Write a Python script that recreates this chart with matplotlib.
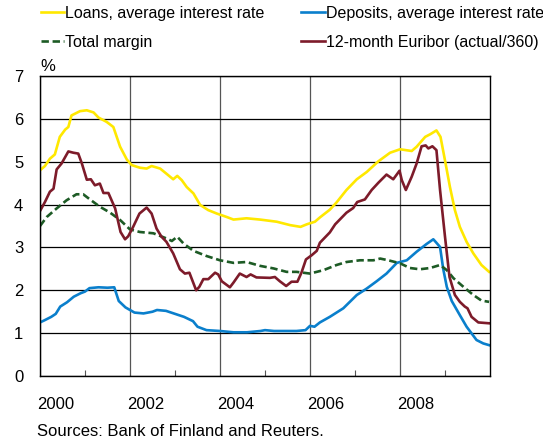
import matplotlib
matplotlib.use("Agg")
import matplotlib.pyplot as plt
from matplotlib.ticker import MultipleLocator, FixedLocator, NullFormatter

plt.rcParams['font.family'] = ['Liberation Sans', 'DejaVu Sans']

# ---- data (decimal year, percent) ----
loans_x = [2000.0, 2000.11, 2000.22, 2000.33, 2000.44, 2000.56, 2000.63, 2000.70, 2000.89, 2001.04,
           2001.19, 2001.30, 2001.48, 2001.63, 2001.78, 2001.93, 2002.04, 2002.22, 2002.37, 2002.48,
           2002.67, 2002.81, 2002.96, 2003.05, 2003.15, 2003.26, 2003.41, 2003.56, 2003.74, 2003.93,
           2004.15, 2004.30, 2004.59, 2004.89, 2005.26, 2005.56, 2005.79, 2005.93, 2006.11, 2006.22,
           2006.44, 2006.59, 2006.81, 2007.04, 2007.26, 2007.52, 2007.78, 2008.0, 2008.26, 2008.37,
           2008.56, 2008.67, 2008.81, 2008.90, 2009.0, 2009.11, 2009.22, 2009.33, 2009.48, 2009.63,
           2009.81, 2009.98]
loans_y = [4.80, 4.90, 5.07, 5.17, 5.58, 5.75, 5.81, 6.08, 6.18, 6.20,
           6.15, 6.03, 5.93, 5.81, 5.35, 5.05, 4.92, 4.86, 4.84, 4.90,
           4.84, 4.72, 4.59, 4.67, 4.57, 4.41, 4.26, 3.99, 3.87, 3.79,
           3.71, 3.65, 3.68, 3.65, 3.60, 3.52, 3.48, 3.54, 3.60, 3.70,
           3.88, 4.05, 4.34, 4.59, 4.76, 5.01, 5.21, 5.29, 5.25, 5.35,
           5.58, 5.64, 5.73, 5.58, 5.03, 4.41, 3.87, 3.48, 3.13, 2.86,
           2.59, 2.43]

deposits_x = [2000.0, 2000.1, 2000.25, 2000.35, 2000.45, 2000.6, 2000.75, 2000.9, 2001.0, 2001.1,
              2001.3, 2001.5, 2001.65, 2001.75, 2001.9, 2002.1, 2002.3, 2002.5, 2002.6, 2002.8,
              2003.0, 2003.2, 2003.4, 2003.5, 2003.7, 2004.0, 2004.3, 2004.6, 2004.9, 2005.0,
              2005.2, 2005.4, 2005.7, 2005.9, 2006.0, 2006.1, 2006.22, 2006.44, 2006.74, 2007.04,
              2007.26, 2007.48, 2007.70, 2007.93, 2008.15, 2008.37, 2008.59, 2008.74, 2008.8, 2008.89,
              2008.96, 2009.04, 2009.15, 2009.33, 2009.48, 2009.70, 2009.85, 2009.98]
deposits_y = [1.25, 1.30, 1.38, 1.45, 1.62, 1.72, 1.85, 1.93, 1.97, 2.05,
              2.07, 2.06, 2.07, 1.75, 1.60, 1.48, 1.46, 1.50, 1.54, 1.52,
              1.45, 1.38, 1.28, 1.15, 1.07, 1.05, 1.02, 1.02, 1.05, 1.07,
              1.05, 1.05, 1.05, 1.07, 1.17, 1.15, 1.25, 1.38, 1.58, 1.89,
              2.04, 2.21, 2.39, 2.64, 2.70, 2.90, 3.08, 3.19, 3.12, 3.01,
              2.50, 2.08, 1.75, 1.42, 1.15, 0.84, 0.76, 0.72]

margin_x = [2000.0, 2000.15, 2000.37, 2000.59, 2000.81, 2000.96, 2001.11, 2001.33, 2001.56, 2001.78,
            2002.0, 2002.22, 2002.52, 2002.81, 2002.93, 2003.05, 2003.19, 2003.41, 2003.70, 2004.0,
            2004.30, 2004.59, 2004.89, 2005.19, 2005.48, 2005.70, 2006.0, 2006.30, 2006.59, 2006.81,
            2007.11, 2007.41, 2007.56, 2007.74, 2008.0, 2008.22, 2008.44, 2008.67, 2008.89, 2009.04,
            2009.19, 2009.41, 2009.63, 2009.81, 2009.98]
margin_y = [3.50, 3.71, 3.91, 4.10, 4.24, 4.24, 4.12, 3.95, 3.81, 3.64,
            3.42, 3.36, 3.33, 3.21, 3.15, 3.25, 3.09, 2.92, 2.80, 2.70,
            2.64, 2.66, 2.57, 2.51, 2.43, 2.43, 2.39, 2.47, 2.59, 2.66,
            2.70, 2.70, 2.74, 2.70, 2.63, 2.52, 2.49, 2.52, 2.59, 2.47,
            2.28, 2.08, 1.89, 1.76, 1.73]

euribor_x = [2000.0, 2000.11, 2000.22, 2000.30, 2000.37, 2000.48, 2000.63, 2000.74, 2000.85, 2000.93,
             2001.04, 2001.13, 2001.22, 2001.33, 2001.41, 2001.52, 2001.67, 2001.79, 2001.89, 2001.96,
             2002.07, 2002.21, 2002.37, 2002.48, 2002.59, 2002.70, 2002.81, 2002.96, 2003.11, 2003.22,
             2003.32, 2003.47, 2003.54, 2003.63, 2003.74, 2003.89, 2003.96, 2004.04, 2004.22, 2004.30,
             2004.44, 2004.59, 2004.68, 2004.81, 2005.11, 2005.22, 2005.33, 2005.47, 2005.59, 2005.72,
             2005.81, 2005.91, 2006.04, 2006.15, 2006.22, 2006.44, 2006.56, 2006.81, 2006.96, 2007.05,
             2007.22, 2007.37, 2007.52, 2007.70, 2007.85, 2007.99, 2008.04, 2008.13, 2008.26, 2008.37,
             2008.48, 2008.57, 2008.63, 2008.72, 2008.81, 2008.89, 2009.0, 2009.10, 2009.22, 2009.33,
             2009.44, 2009.50, 2009.59, 2009.74, 2009.98]
euribor_y = [3.85, 4.06, 4.30, 4.37, 4.82, 4.96, 5.24, 5.21, 5.19, 4.96,
             4.58, 4.59, 4.45, 4.49, 4.27, 4.27, 3.91, 3.36, 3.19, 3.26,
             3.48, 3.79, 3.93, 3.79, 3.44, 3.25, 3.13, 2.86, 2.49, 2.39,
             2.41, 2.00, 2.08, 2.26, 2.26, 2.41, 2.37, 2.21, 2.07, 2.18,
             2.39, 2.31, 2.37, 2.30, 2.29, 2.31, 2.21, 2.10, 2.20, 2.20,
             2.41, 2.72, 2.82, 2.92, 3.11, 3.35, 3.54, 3.81, 3.92, 4.06,
             4.12, 4.34, 4.51, 4.70, 4.59, 4.79, 4.57, 4.34, 4.65, 4.96,
             5.36, 5.38, 5.31, 5.36, 5.27, 4.34, 3.25, 2.31, 1.89, 1.73,
             1.62, 1.58, 1.38, 1.25, 1.23]

year_labels = ['2000', '2002', '2004', '2006', '2008']
legend_labels = ['Loans, average interest rate', 'Total margin',
                 'Deposits, average interest rate', '12-month Euribor (actual/360)']

# ---- figure ----
W, H = 543, 446
fig = plt.figure(figsize=(W / 100, H / 100), dpi=100)
ax = fig.add_axes([40 / W, 1 - 376 / H, 450 / W, 300 / H])

lw = 1.9
l_loans, = ax.plot(loans_x, loans_y, color='#FFE800', lw=lw, solid_joinstyle='round')
l_dep, = ax.plot(deposits_x, deposits_y, color='#0A7FCC', lw=lw, solid_joinstyle='round')
l_mar, = ax.plot(margin_x, margin_y, color='#1D5B25', lw=lw, ls=(0, (2.8, 1.4)))
l_eur, = ax.plot(euribor_x, euribor_y, color='#7D1B2A', lw=lw, solid_joinstyle='round')

ax.set_xlim(2000, 2010)
ax.set_ylim(0, 7)
ax.yaxis.set_major_locator(MultipleLocator(1))
ax.xaxis.set_major_locator(FixedLocator([2000, 2002, 2004, 2006, 2008]))
ax.xaxis.set_minor_locator(FixedLocator([2001, 2003, 2005, 2007, 2009]))
ax.xaxis.set_major_formatter(NullFormatter())
ax.tick_params(axis='x', which='major', length=0)
ax.tick_params(axis='x', which='minor', direction='in', length=4, width=0.8, color='#555555')
ax.tick_params(axis='y', length=0, pad=12, labelsize=12)

ax.grid(axis='y', color='black', lw=0.9)
ax.grid(axis='x', which='major', color='#555555', lw=0.9)
ax.set_axisbelow(True)
for s in ax.spines.values():
    s.set_color('black')
    s.set_linewidth(1.0)

for lab in year_labels:
    ax.text(float(lab) + 0.35, -0.50, lab, ha='center', va='top', fontsize=12,
            transform=ax.transData)

ax.text(0.0, 1.006, '%', transform=ax.transAxes, ha='left', va='bottom', fontsize=12)

fig.text(37 / W, 1 - 432 / H, 'Sources: Bank of Finland and Reuters.', ha='left', va='center',
         fontsize=12)

fig.legend([l_loans, l_mar, l_dep, l_eur], legend_labels, ncol=2, loc='upper left',
           bbox_to_anchor=(41 / W, 1 - 6 / H), frameon=False, fontsize=11.5,
           handlelength=1.45, handletextpad=0.07, columnspacing=2.3, labelspacing=0.85,
           borderpad=0, borderaxespad=0)

fig.savefig('out.png', dpi=100)
